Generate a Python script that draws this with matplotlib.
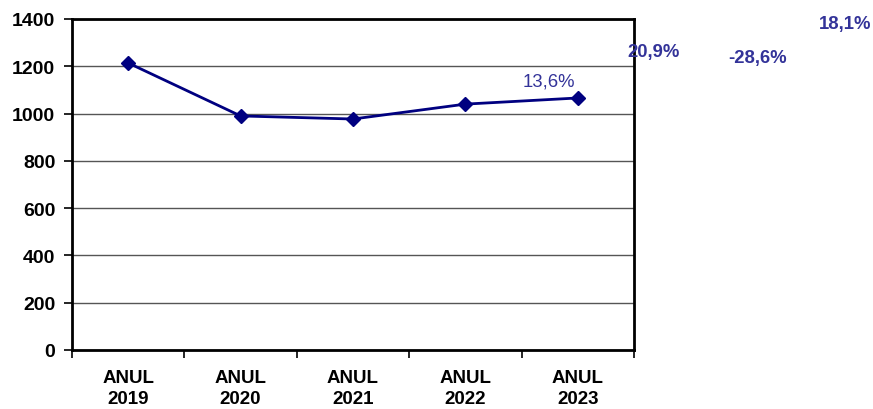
import numpy as np
import matplotlib.pyplot as plt

plt.rcParams['font.family'] = ['Liberation Sans', 'DejaVu Sans']

categorii = ['ANUL\n2019', 'ANUL\n2020', 'ANUL\n2021', 'ANUL\n2022', 'ANUL\n2023']
valori = [1214, 990, 977, 1040, 1066]
procente = ['20,9%', '-28,6%', '18,1%']
eticheta_2023 = '13,6%'

culoare_linie = '#000080'
culoare_text = '#333399'

fig = plt.figure(figsize=(8.73, 4.10), dpi=100)
ax = fig.add_axes([72 / 873, 1 - 351 / 410, 562 / 873, 331 / 410])

x = np.arange(len(valori))
ax.plot(x, valori, color=culoare_linie, lw=2, marker='D', ms=7, zorder=3)

ax.set_xlim(-0.5, len(valori) - 0.5)
ax.set_ylim(0, 1400)
ax.set_yticks(np.arange(0, 1401, 200))
ax.yaxis.grid(True, color='#555555', lw=1)
ax.set_axisbelow(True)

# etichete categorii centrate, tick-uri intre categorii
ax.set_xticks(np.arange(-0.5, len(valori), 1))
ax.set_xticklabels([])
ax.set_xticks(x, minor=True)
ax.set_xticklabels(categorii, minor=True, fontsize=13.5, fontweight='bold', linespacing=1.25)
ax.tick_params(axis='x', which='minor', length=0, pad=14)
ax.tick_params(axis='x', which='major', length=6, width=1.2, direction='out')
ax.tick_params(axis='y', length=6, width=1.2, labelsize=14, pad=6)
for lbl in ax.get_yticklabels():
    lbl.set_fontweight('bold')

for s in ax.spines.values():
    s.set_linewidth(2)
    s.set_color('black')

ax.annotate(eticheta_2023, (x[-1], valori[-1]), xytext=(-21, 6), textcoords='offset points',
            ha='center', va='bottom', color=culoare_text, fontsize=13.3)

# etichete ramase in afara graficului
pozitii = [(654, 53), (758, 59), (845, 25)]
for txt, (px, py) in zip(procente, pozitii):
    fig.text(px / 873, 1 - py / 410, txt, ha='center', va='center',
             color=culoare_text, fontsize=13.3, fontweight='bold')

fig.savefig('out.png', dpi=100)
